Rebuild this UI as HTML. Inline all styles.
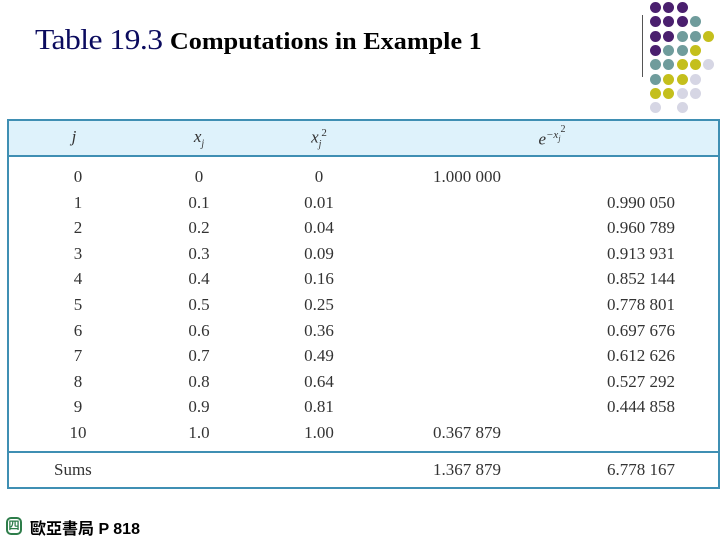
<!DOCTYPE html>
<html><head><meta charset="utf-8"><style>
body{margin:0;width:720px;height:540px;background:#fff;position:relative;overflow:hidden;font-family:"Liberation Serif",serif}
.a{position:absolute;white-space:nowrap}
.c{font-size:17px;color:#333;transform:translateX(-50%)}
.r{font-size:17px;color:#333;transform:translateX(-100%)}
.l{font-size:17px;color:#333}
.dot{position:absolute;width:11px;height:11px;border-radius:50%}
</style></head><body>
<div class="a" style="left:35px;top:24px;font-size:29px;color:#0b0b5e;letter-spacing:-0.5px;transform:scaleX(1.09);transform-origin:left top">Table 19.3 <span style="font-size:24px;font-weight:bold;color:#000;letter-spacing:0">Computations in Example 1</span></div>
<div class="a" style="left:642px;top:15px;width:1px;height:62px;background:#555"></div>
<div id="dots"></div>
<div class="a" style="left:7px;top:119px;width:709px;height:366px;border:2px solid #3f8fb3"></div>
<div class="a" style="left:9px;top:121px;width:709px;height:34px;background:#def2fb;border-bottom:2px solid #3f8fb3"></div>
<div class="a" style="left:9px;top:451px;width:709px;height:2px;background:#3f8fb3"></div>
<div class="a c" style="left:74px;top:127px;font-style:italic">j</div>
<div class="a c" style="left:199px;top:127px;font-style:italic">x<sub style="font-size:10px">j</sub></div>
<div class="a c" style="left:319px;top:127px;font-style:italic">x<sub style="font-size:10px">j</sub><sup style="font-size:11px;font-style:normal">2</sup></div>
<div class="a c" style="left:552px;top:124px;font-style:italic">e<sup style="font-size:11px">−x<sub style="font-size:8px">j</sub><span style="font-style:normal;font-size:10px;vertical-align:6px">2</span></sup></div>
<div id="rows"></div>
<div class="a l" style="left:54px;top:460px">Sums</div>
<div class="a l" style="left:433px;top:460px">1.367 879</div>
<div class="a r" style="left:675px;top:460px">6.778 167</div>
<div class="a" style="left:6px;top:517px;width:16px;height:18px;border:2px solid #2e7d4a;border-radius:5px;box-sizing:border-box;color:#2e7d4a;font:bold 11px 'Liberation Sans',sans-serif;text-align:center;line-height:14px">四</div>
<div class="a" style="left:30px;top:515px;font:bold 16px 'Liberation Sans','Noto Sans CJK TC',sans-serif">歐亞書局 P 818</div>
<script>
const dotRows=["PPP","PPPT","PPTTY","PTTY","TTYYL","TYYL","YYLL","L_L"];
const col={P:"#4a1f6e",T:"#6f9c9c",Y:"#c4bf1c",L:"#d6d6e4"};
const dd=document.getElementById('dots');
dotRows.forEach((r,i)=>{[...r].forEach((ch,k)=>{if(ch==="_")return;const d=document.createElement('div');


d.className='dot';d.style.left=(650+k*13.3)+'px';d.style.top=(2+i*14.3)+'px';d.style.background=col[ch];dd.appendChild(d);});});
const js=["0","1","2","3","4","5","6","7","8","9","10"];
const xs=["0","0.1","0.2","0.3","0.4","0.5","0.6","0.7","0.8","0.9","1.0"];
const x2=["0","0.01","0.04","0.09","0.16","0.25","0.36","0.49","0.64","0.81","1.00"];
const ex=["1.000 000","0.990 050","0.960 789","0.913 931","0.852 144","0.778 801","0.697 676","0.612 626","0.527 292","0.444 858","0.367 879"];
const rb=document.getElementById('rows');
js.forEach((j,i)=>{const y=167+i*25.6;
const mk=(t,cls,x,name)=>{const e=document.createElement('div');


e.className='a '+cls;e.style.left=x+'px';e.style.top=y+'px';e.textContent=t;rb.appendChild(e);};
mk(j,'c',78,'cell-j');mk(xs[i],'c',199,'cell-xj');mk(x2[i],'c',319,'cell-xj2');
if(i===0||i===10)mk(ex[i],'l',433,'cell-exp-end');else mk(ex[i],'r',675,'cell-exp-interior');});
</script>
</body></html>
